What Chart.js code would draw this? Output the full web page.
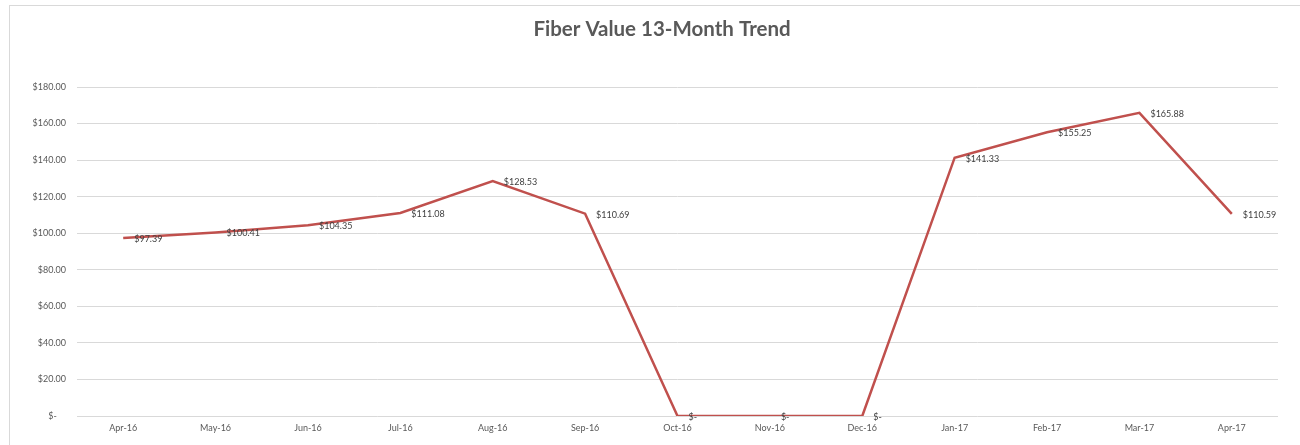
<!DOCTYPE html>
<html>
<head>
<meta charset="utf-8">
<title>Fiber Value 13-Month Trend</title>
<script src="https://cdn.jsdelivr.net/npm/chart.js@4.4.1/dist/chart.umd.min.js"></script>
<style>
    html, body { margin: 0; padding: 0; background: #fff; }
    #wrap { position: relative; width: 1300px; height: 445px; overflow: hidden; }
    #marco {
        position: absolute; left: 9px; top: 5px; width: 1400px; height: 500px;
        border-left: 1px solid #d9d9d9; border-top: 1px solid #d9d9d9;
    }
    #grafico { position: absolute; left: 0; top: 0; }
</style>
</head>
<body>
<div id="wrap">
    <div id="marco"></div>
    <canvas id="grafico" width="1300" height="445"></canvas>
</div>
<script>
const titulo = 'Fiber Value 13-Month Trend';
const meses = ['Apr-16', 'May-16', 'Jun-16', 'Jul-16', 'Aug-16', 'Sep-16', 'Oct-16',
               'Nov-16', 'Dec-16', 'Jan-17', 'Feb-17', 'Mar-17', 'Apr-17'];
const valores = [97.39, 100.41, 104.35, 111.08, 128.53, 110.69, 0, 0, 0, 141.33, 155.25, 165.88, 110.59];
const ticksY = [0, 20, 40, 60, 80, 100, 120, 140, 160, 180];

const fuente = "Lato, 'Open Sans', 'Liberation Sans', sans-serif";

function formatoDolar(v) {
    if (v === 0) return '$-';
    return '$' + v.toFixed(2);
}

// titulo centrado sobre todo el marco del grafico (no solo el area de trazado)
const tituloPlugin = {
    id: 'tituloPlugin',
    afterDraw(chart) {
        const ctx = chart.ctx;
        ctx.save();
        ctx.font = 'bold 20.5px ' + fuente;
        ctx.fillStyle = '#595959';
        ctx.textAlign = 'center';
        ctx.textBaseline = 'middle';
        ctx.fillText(titulo, 662, 29);
        ctx.restore();
    }
};

// etiquetas de datos a la derecha de cada punto (como Excel)
const etiquetas = {
    id: 'etiquetas',
    afterDatasetsDraw(chart) {
        const ctx = chart.ctx;
        const meta = chart.getDatasetMeta(0);
        ctx.save();
        ctx.font = '9px ' + fuente;
        ctx.fillStyle = '#404040';
        ctx.textAlign = 'left';
        ctx.textBaseline = 'middle';
        meta.data.forEach((p, i) => {
            ctx.fillText(formatoDolar(valores[i]), p.x + 11, p.y + 1);
        });
        ctx.restore();
    }
};

new Chart(document.getElementById('grafico'), {
    type: 'line',
    data: {
        labels: meses,
        datasets: [{
            data: valores,
            borderColor: '#c0504d',
            borderWidth: 2.5,
            pointRadius: 0,
            tension: 0,
            fill: false
        }]
    },
    options: {
        responsive: false,
        animation: false,
        layout: { padding: { left: 0, right: 22, top: 87, bottom: 0 } },
        plugins: {
            legend: { display: false },
            tooltip: { enabled: false },
            title: { display: false }
        },
        scales: {
            x: {
                offset: true,
                grid: { display: false, drawTicks: false },
                border: { display: false },
                ticks: {
                    color: '#595959',
                    font: { family: fuente, size: 9 },
                    padding: 7,
                    maxRotation: 0,
                    autoSkip: false
                },
                afterFit: (scale) => { scale.height = 29; }
            },
            y: {
                min: 0,
                max: 180,
                afterBuildTicks: (scale) => { scale.ticks = ticksY.map(v => ({ value: v })); },
                grid: { color: '#d9d9d9', lineWidth: 1, drawTicks: false },
                border: { display: false },
                ticks: {
                    color: '#595959',
                    font: { family: fuente, size: 9 },
                    padding: 11,
                    callback: (v) => v === 0 ? '$-    ' : '$' + v.toFixed(2)
                },
                afterFit: (scale) => { scale.width = 77; }
            }
        }
    },
    plugins: [tituloPlugin, etiquetas]
});
</script>
</body>
</html>
